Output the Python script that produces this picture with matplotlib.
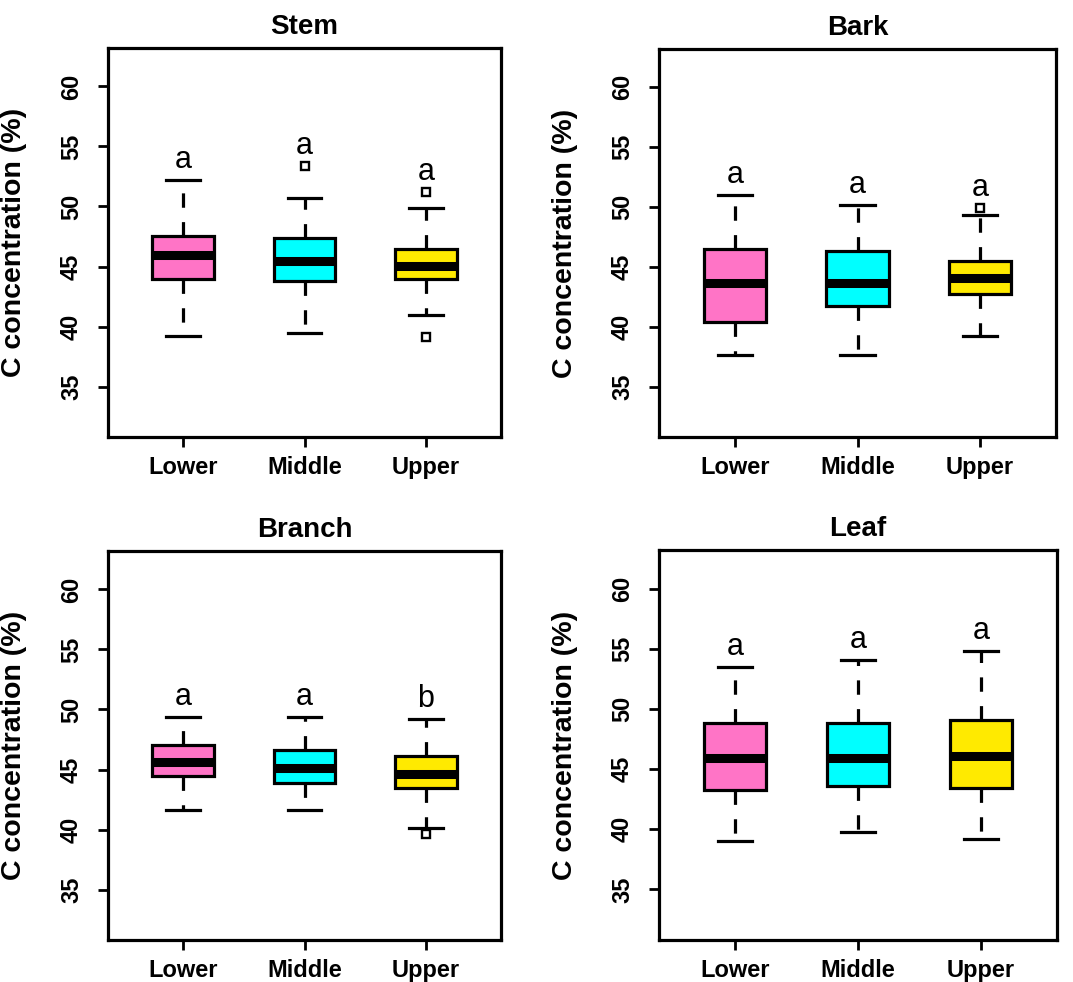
import matplotlib
matplotlib.use("Agg")
import matplotlib.pyplot as plt
from matplotlib import font_manager

# ---------------- data ----------------
groups = ["Lower", "Middle", "Upper"]
panels = ["Stem", "Bark", "Branch", "Leaf"]

stem_whislo = [39.2, 39.5, 41.0]
stem_q1 = [44.0, 43.8, 44.0]
stem_med = [46.0, 45.5, 45.05]
stem_q3 = [47.5, 47.35, 46.45]
stem_whishi = [52.2, 50.7, 49.9]
stem_fliers = [[], [53.4], [51.2, 39.1]]
stem_letters = ["a", "a", "a"]

bark_whislo = [37.65, 37.65, 39.2]
bark_q1 = [40.4, 41.75, 42.7]
bark_med = [43.7, 43.7, 44.1]
bark_q3 = [46.5, 46.3, 45.5]
bark_whishi = [51.0, 50.2, 49.3]
bark_fliers = [[], [], [49.95]]
bark_letters = ["a", "a", "a"]

branch_whislo = [41.6, 41.6, 40.1]
branch_q1 = [44.45, 43.85, 43.5]
branch_med = [45.6, 45.15, 44.6]
branch_q3 = [47.05, 46.6, 46.15]
branch_whishi = [49.4, 49.4, 49.2]
branch_fliers = [[], [], [39.65]]
branch_letters = ["a", "a", "b"]

leaf_whislo = [39.05, 39.8, 39.2]
leaf_q1 = [43.25, 43.6, 43.4]
leaf_med = [45.9, 45.9, 46.05]
leaf_q3 = [48.85, 48.85, 49.05]
leaf_whishi = [53.5, 54.05, 54.8]
leaf_fliers = [[], [], []]
leaf_letters = ["a", "a", "a"]

box_colors = ["#FF74C6", "#00FFFF", "#FFEA00"]
y_ticks = [35, 40, 45, 50, 55, 60]
y_label = "C concentration (%)"

panel_data = {
    "Stem": (stem_whislo, stem_q1, stem_med, stem_q3, stem_whishi, stem_fliers, stem_letters),
    "Bark": (bark_whislo, bark_q1, bark_med, bark_q3, bark_whishi, bark_fliers, bark_letters),
    "Branch": (branch_whislo, branch_q1, branch_med, branch_q3, branch_whishi, branch_fliers, branch_letters),
    "Leaf": (leaf_whislo, leaf_q1, leaf_med, leaf_q3, leaf_whishi, leaf_fliers, leaf_letters),
}

# ---------------- fonts ----------------
avail = {f.name for f in font_manager.fontManager.ttflist}
main_font = "Liberation Sans" if "Liberation Sans" in avail else "DejaVu Sans"
letter_font = "Liberation Sans Narrow" if "Liberation Sans Narrow" in avail else main_font
plt.rcParams["font.family"] = [main_font, "DejaVu Sans"]

W, H = 1073, 982
fig = plt.figure(figsize=(W / 100, H / 100), dpi=100)

# axes rectangles in pixels: left, right, top, bottom
rects = {
    "Stem": (108, 501, 48, 437),
    "Bark": (659, 1056, 49, 437),
    "Branch": (108, 501, 551, 940),
    "Leaf": (659, 1057, 550, 940),
}

for name in panels:
    l, r, t, b = rects[name]
    ax = fig.add_axes([l / W, (H - b) / H, (r - l) / W, (b - t) / H])
    whislo, q1, med, q3, whishi, fliers, letters = panel_data[name]
    stats = []
    for i, g in enumerate(groups):
        stats.append(dict(label=g, whislo=whislo[i], q1=q1[i], med=med[i],
                          q3=q3[i], whishi=whishi[i], fliers=fliers[i]))
    bp = ax.bxp(stats, positions=[1, 2, 3], widths=0.51, capwidths=0.28,
                patch_artist=True, showfliers=True,
                boxprops=dict(linewidth=2.3, edgecolor="black"),
                medianprops=dict(color="black", linewidth=6.5, solid_capstyle="butt"),
                whiskerprops=dict(color="black", linewidth=2.3, linestyle=(0, (4.5, 4.5))),
                capprops=dict(color="black", linewidth=2.3),
                flierprops=dict(marker="s", markersize=5.5, markerfacecolor="white",
                                markeredgecolor="black", markeredgewidth=1.7))
    for patch, c in zip(bp["boxes"], box_colors):
        patch.set_facecolor(c)

    for i in range(3):
        top = max([whishi[i]] + list(fliers[i]))
        ax.text(i + 1, top + 1.0, letters[i], ha="center", va="baseline",
                fontsize=22, family=[letter_font, "DejaVu Sans"], color="black")

    ax.set_xlim(0.38, 3.62)
    ax.set_ylim(30.8, 63.2)
    ax.set_yticks(y_ticks)
    ax.set_xticks([1, 2, 3])
    ax.set_xticklabels(groups, fontsize=17, fontweight="bold")
    ax.set_yticklabels([str(v) for v in y_ticks], fontsize=17, fontweight="bold",
                       rotation=90, va="center")
    ax.tick_params(axis="both", direction="out", length=7, width=2.0)
    ax.tick_params(axis="y", pad=11)
    ax.tick_params(axis="x", pad=7)
    for sp in ax.spines.values():
        sp.set_linewidth(2.3)
    ax.set_title(name, fontsize=20, fontweight="bold", pad=10)
    ax.set_ylabel(y_label, fontsize=20.5, fontweight="bold")
    ax.yaxis.set_label_coords(-81 / (r - l), 0.5)

fig.savefig("out.png", dpi=100)
